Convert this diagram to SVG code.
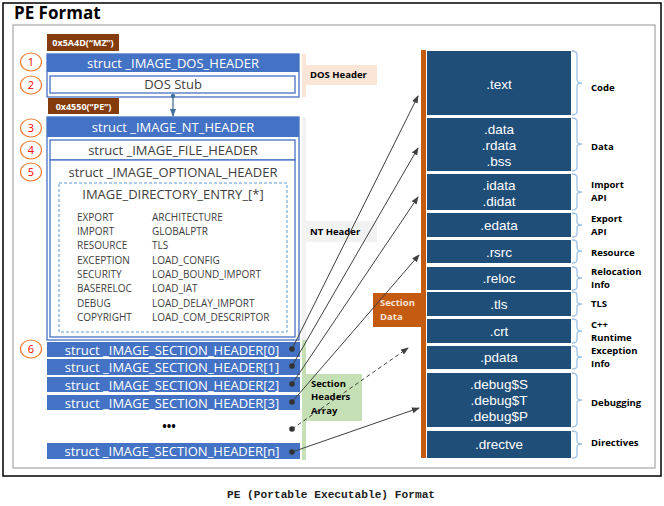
<svg xmlns="http://www.w3.org/2000/svg" width="664" height="506" viewBox="0 0 664 506">
<style>
.t{font-family:"Open Sans","Noto Sans","Liberation Sans",sans-serif}
.w{fill:#fff;font-size:13px}
.sw{fill:#fff;font-size:13.5px;font-family:"Liberation Sans",Arial,sans-serif;text-anchor:middle}
.d{fill:#404040;font-size:13px}
.s{fill:#404040;font-size:10px}
.lb{fill:#000;font-size:9.5px;font-weight:bold}
.tag{fill:#fff;font-size:9px;font-weight:bold}
.bar{fill:#4472C4}
.box{fill:#fff;stroke:#4472C4;stroke-width:1.3}
.num{fill:#fff;stroke:#ED7D31;stroke-width:1.2}
.nt{fill:#FF0000;font-size:11px;text-anchor:middle}
.sec{fill:#1F4E79}
.br{fill:none;stroke:#9DC3E6;stroke-width:1.3}
.ln{stroke:#404040;stroke-width:1;fill:none}
</style>
<defs>
<marker id="ah" markerWidth="8" markerHeight="8" refX="7" refY="4" orient="auto" markerUnits="userSpaceOnUse"><path d="M0,1 L8,4 L0,7 Z" fill="#404040"/></marker>
<marker id="ah2" markerWidth="8" markerHeight="8" refX="7" refY="4" orient="auto" markerUnits="userSpaceOnUse"><path d="M0,1 L8,4 L0,7 Z" fill="#41719C"/></marker>
</defs>
<rect x="0" y="0" width="664" height="506" fill="#fff"/>
<rect x="3" y="3" width="658" height="473" fill="none" stroke="#000" stroke-width="1.5"/>
<rect x="13" y="25" width="642" height="443" fill="none" stroke="#A6A6A6" stroke-width="1.2"/>
<text x="14" y="19" class="t" font-size="17" font-weight="bold" fill="#000">PE Format</text>

<g id="tag-mz"><rect x="47" y="34" width="72" height="17" fill="#843C0C"/><text x="83" y="46" class="t tag" text-anchor="middle">0x5A4D(“MZ”)</text></g>
<g id="tag-pe"><rect x="48" y="98" width="71" height="16" fill="#843C0C"/><text x="83.5" y="110" class="t tag" text-anchor="middle">0x4550(“PE”)</text></g>

<g id="dos-header">
<rect x="47" y="54" width="252" height="43" class="box"/>
<rect x="47" y="54" width="252" height="18" class="bar"/>
<text x="173" y="68" class="t w" text-anchor="middle">struct _IMAGE_DOS_HEADER</text>
<rect x="50" y="76" width="245" height="17" class="box"/>
<text x="173" y="89" class="t d" text-anchor="middle">DOS Stub</text>
</g>

<g id="nt-header">
<rect x="47" y="117" width="252" height="223" class="box"/>
<rect x="47" y="117" width="252" height="20" class="bar"/>
<text x="173" y="132" class="t w" text-anchor="middle">struct _IMAGE_NT_HEADER</text>
<rect x="50" y="140" width="245" height="20" class="box"/>
<text x="173" y="155" class="t d" text-anchor="middle">struct _IMAGE_FILE_HEADER</text>
<rect x="50" y="160" width="245" height="177" class="box"/>
<text x="173" y="177" class="t d" text-anchor="middle">struct _IMAGE_OPTIONAL_HEADER</text>
<rect x="59" y="183" width="228" height="149" fill="none" stroke="#5B9BD5" stroke-width="1" stroke-dasharray="3,2"/>
<text x="173" y="199" class="t d" text-anchor="middle">IMAGE_DIRECTORY_ENTRY_[*]</text>
<g class="t s">
<text x="77" y="221">EXPORT</text><text x="152" y="221">ARCHITECTURE</text>
<text x="77" y="235">IMPORT</text><text x="152" y="235">GLOBALPTR</text>
<text x="77" y="249">RESOURCE</text><text x="152" y="249">TLS</text>
<text x="77" y="264">EXCEPTION</text><text x="152" y="264">LOAD_CONFIG</text>
<text x="77" y="278">SECURITY</text><text x="152" y="278">LOAD_BOUND_IMPORT</text>
<text x="77" y="292">BASERELOC</text><text x="152" y="292">LOAD_IAT</text>
<text x="77" y="307">DEBUG</text><text x="152" y="307">LOAD_DELAY_IMPORT</text>
<text x="77" y="321">COPYRIGHT</text><text x="152" y="321">LOAD_COM_DESCRIPTOR</text>
</g>
</g>

<g id="section-headers">
<rect x="47" y="342" width="253" height="15" class="bar"/><text x="172" y="355" class="t w" text-anchor="middle">struct _IMAGE_SECTION_HEADER[0]</text>
<rect x="47" y="359" width="253" height="16" class="bar"/><text x="172" y="372" class="t w" text-anchor="middle">struct _IMAGE_SECTION_HEADER[1]</text>
<rect x="47" y="377" width="253" height="15" class="bar"/><text x="172" y="390" class="t w" text-anchor="middle">struct _IMAGE_SECTION_HEADER[2]</text>
<rect x="47" y="395" width="253" height="15" class="bar"/><text x="172" y="408" class="t w" text-anchor="middle">struct _IMAGE_SECTION_HEADER[3]</text>
<text x="169" y="431" class="t" font-size="12" font-weight="bold" fill="#000" text-anchor="middle">•••</text>
<rect x="47" y="443" width="253" height="16" class="bar"/><text x="172" y="456" class="t w" text-anchor="middle">struct _IMAGE_SECTION_HEADER[n]</text>
</g>

<g id="numbers" class="t">
<ellipse cx="31" cy="62" rx="10.5" ry="9" class="num"/><text x="31" y="66" class="nt">1</text>
<ellipse cx="31" cy="85" rx="10.5" ry="9" class="num"/><text x="31" y="89" class="nt">2</text>
<ellipse cx="31" cy="128" rx="10.5" ry="9" class="num"/><text x="31" y="132" class="nt">3</text>
<ellipse cx="31" cy="150" rx="10.5" ry="9" class="num"/><text x="31" y="154" class="nt">4</text>
<ellipse cx="31" cy="172" rx="10.5" ry="9" class="num"/><text x="31" y="176" class="nt">5</text>
<ellipse cx="31" cy="349" rx="10.5" ry="9" class="num"/><text x="31" y="353" class="nt">6</text>
</g>

<g id="region-labels" class="t">
<rect x="302" y="54" width="4" height="43" fill="#FBE5D6"/>
<rect x="302" y="65" width="75" height="20" fill="#FBE5D6"/>
<text x="310" y="78" class="lb">DOS Header</text>
<rect x="302" y="117" width="4" height="223" fill="#F2F2F2"/>
<rect x="302" y="221" width="75" height="21" fill="#F2F2F2"/>
<text x="310" y="235" class="lb">NT Header</text>
<rect x="302" y="340" width="4" height="120" fill="#C5E0B4"/>
<rect x="302" y="374" width="60" height="47" fill="#C5E0B4"/>
<text x="311" y="387" class="lb">Section</text>
<text x="311" y="400" class="lb">Headers</text>
<text x="311" y="414" class="lb">Array</text>
</g>

<g id="section-data">
<rect x="421" y="50" width="5" height="408" fill="#C55A11"/>
<rect x="373" y="293" width="53" height="34" fill="#C55A11"/>
<text x="380" y="306" class="t" font-size="9.5" font-weight="bold" fill="#FBE5D6">Section</text>
<text x="380" y="320" class="t" font-size="9.5" font-weight="bold" fill="#FBE5D6">Data</text>
</g>

<g id="sections">
<rect x="427" y="51" width="144" height="64" class="sec"/><text x="499" y="89" class="sw">.text</text>
<rect x="427" y="118" width="144" height="53" class="sec"/><text x="499" y="134" class="sw">.data</text><text x="499" y="150" class="sw">.rdata</text><text x="499" y="166" class="sw">.bss</text>
<rect x="427" y="174" width="144" height="36" class="sec"/><text x="499" y="190" class="sw">.idata</text><text x="499" y="206" class="sw">.didat</text>
<rect x="427" y="213" width="144" height="24" class="sec"/><text x="499" y="230" class="sw">.edata</text>
<rect x="427" y="240" width="144" height="23" class="sec"/><text x="499" y="257" class="sw">.rsrc</text>
<rect x="427" y="267" width="144" height="23" class="sec"/><text x="499" y="283" class="sw">.reloc</text>
<rect x="427" y="292" width="144" height="24" class="sec"/><text x="499" y="309" class="sw">.tls</text>
<rect x="427" y="319" width="144" height="24" class="sec"/><text x="499" y="336" class="sw">.crt</text>
<rect x="427" y="346" width="144" height="23" class="sec"/><text x="499" y="362" class="sw">.pdata</text>
<rect x="427" y="373" width="144" height="54" class="sec"/><text x="499" y="389" class="sw">.debug$S</text><text x="499" y="405" class="sw">.debug$T</text><text x="499" y="421" class="sw">.debug$P</text>
<rect x="427" y="431" width="144" height="27" class="sec"/><text x="499" y="449" class="sw">.drectve</text>
</g>

<g id="braces">
<path class="br" d="M572,51 Q577,51 577,55 L577,80 Q577,83 582,83 Q577,83 577,86 L577,111 Q577,115 572,115"/>
<path class="br" d="M572,118 Q577,118 577,122 L577,141 Q577,144 582,144 Q577,144 577,147 L577,167 Q577,171 572,171"/>
<path class="br" d="M572,174 Q577,174 577,178 L577,189 Q577,192 582,192 Q577,192 577,195 L577,206 Q577,210 572,210"/>
<path class="br" d="M572,213 Q577,213 577,216 L577,222 Q577,225 582,225 Q577,225 577,228 L577,234 Q577,237 572,237"/>
<path class="br" d="M572,240 Q577,240 577,243 L577,248 Q577,251 582,251 Q577,251 577,254 L577,260 Q577,263 572,263"/>
<path class="br" d="M572,267 Q577,267 577,270 L577,275 Q577,278 582,278 Q577,278 577,281 L577,287 Q577,290 572,290"/>
<path class="br" d="M572,292 Q577,292 577,295 L577,301 Q577,304 582,304 Q577,304 577,307 L577,313 Q577,316 572,316"/>
<path class="br" d="M572,319 Q577,319 577,322 L577,328 Q577,331 582,331 Q577,331 577,334 L577,340 Q577,343 572,343"/>
<path class="br" d="M572,346 Q577,346 577,349 L577,354 Q577,357 582,357 Q577,357 577,360 L577,366 Q577,369 572,369"/>
<path class="br" d="M572,373 Q577,373 577,377 L577,397 Q577,400 582,400 Q577,400 577,403 L577,423 Q577,427 572,427"/>
<path class="br" d="M572,431 Q577,431 577,434 L577,441 Q577,444 582,444 Q577,444 577,447 L577,455 Q577,458 572,458"/>
</g>

<g id="section-labels" class="t lb">
<text x="591" y="91">Code</text>
<text x="591" y="150">Data</text>
<text x="591" y="188">Import</text><text x="591" y="201">API</text>
<text x="591" y="222">Export</text><text x="591" y="235">API</text>
<text x="591" y="256">Resource</text>
<text x="591" y="275">Relocation</text><text x="591" y="288">Info</text>
<text x="591" y="307">TLS</text>
<text x="591" y="328">C++</text><text x="591" y="341">Runtime</text>
<text x="591" y="354">Exception</text><text x="591" y="367">Info</text>
<text x="591" y="406">Debugging</text>
<text x="591" y="446">Directives</text>
</g>

<g id="connectors">
<line x1="173" y1="96" x2="173" y2="116" stroke="#41719C" stroke-width="1.3" marker-end="url(#ah2)"/>
<circle cx="173" cy="96" r="2.2" fill="#41719C"/>
<line class="ln" x1="292" y1="349" x2="418" y2="96" marker-end="url(#ah)"/>
<line class="ln" x1="292" y1="366" x2="418" y2="148" marker-end="url(#ah)"/>
<line class="ln" x1="292" y1="384" x2="418" y2="197" marker-end="url(#ah)"/>
<line class="ln" x1="292" y1="402" x2="419" y2="255" marker-end="url(#ah)"/>
<line class="ln" x1="292" y1="429" x2="408" y2="348" stroke-dasharray="4,3" marker-end="url(#ah)"/>
<line class="ln" x1="292" y1="452" x2="419" y2="408" marker-end="url(#ah)"/>
<g fill="#333">
<circle cx="292" cy="349" r="2.8"/><circle cx="292" cy="366" r="2.8"/><circle cx="292" cy="384" r="2.8"/>
<circle cx="292" cy="402" r="2.8"/><circle cx="292" cy="429" r="2.8"/><circle cx="292" cy="452" r="2.8"/>
</g>
</g>

<text x="331" y="498" font-family="'Liberation Mono','DejaVu Sans Mono',monospace" font-size="11.2" font-weight="bold" fill="#222" text-anchor="middle">PE (Portable Executable) Format</text>
</svg>
